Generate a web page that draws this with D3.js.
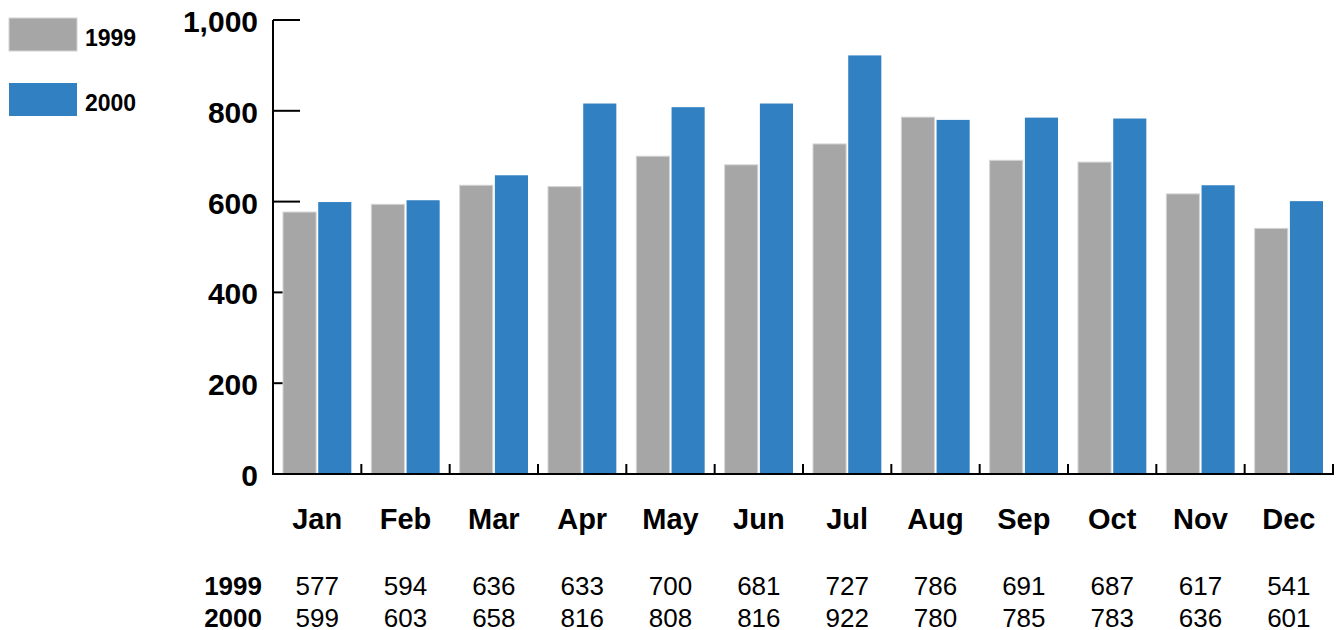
<!DOCTYPE html>
<html>
<head>
<meta charset="utf-8">
<script src="https://cdn.jsdelivr.net/npm/d3@7"></script>
<style>
  body { margin: 0; background: #fff; }
  svg { font-family: "Liberation Sans", Arial, sans-serif; }
</style>
</head>
<body>
<div id="chart"></div>
<script>
var months = ["Jan", "Feb", "Mar", "Apr", "May", "Jun", "Jul", "Aug", "Sep", "Oct", "Nov", "Dec"];
var seriesNames = ["1999", "2000"];
var values1999 = [577, 594, 636, 633, 700, 681, 727, 786, 691, 687, 617, 541];
var values2000 = [599, 603, 658, 816, 808, 816, 922, 780, 785, 783, 636, 601];
var yTicks = [0, 200, 400, 600, 800, 1000];
var colors = ["#a6a6a6", "#3080c2"];

var series = [values1999, values2000];

var svg = d3.select("#chart")
    .append("svg")
    .attr("width", 1340)
    .attr("height", 630);

var plotLeft = 273, plotRight = 1333, plotTop = 20, plotBottom = 474;

var x = d3.scaleBand().domain(months).range([plotLeft, plotRight]).paddingInner(0).paddingOuter(0);
var inner = d3.scaleBand().domain(seriesNames).range([10, x.bandwidth() - 10]).paddingInner(0.06);
var y = d3.scaleLinear().domain([0, 1000]).range([plotBottom, plotTop]);

// y axis ticks pointing into the plot, drawn under the bars
svg.append("g")
    .selectAll("line")
    .data(yTicks)
    .enter()
    .append("line")
    .attr("x1", plotLeft)
    .attr("x2", plotLeft + 27)
    .attr("y1", function(d) { return y(d); })
    .attr("y2", function(d) { return y(d); })
    .attr("stroke", "#000")
    .attr("stroke-width", 2);

// bars
series.forEach(function(vals, s) {
    svg.append("g")
        .selectAll("rect")
        .data(vals)
        .enter()
        .append("rect")
        .attr("x", function(d, i) { return x(months[i]) + inner(seriesNames[s]); })
        .attr("y", function(d) { return y(d); })
        .attr("width", inner.bandwidth())
        .attr("height", function(d) { return plotBottom - y(d); })
        .attr("fill", colors[s])
        .attr("stroke", s == 0 ? "#d4d4d4" : "none")
        .attr("stroke-width", 1);
});

// axis lines
svg.append("line")
    .attr("x1", plotLeft).attr("x2", plotLeft)
    .attr("y1", plotTop).attr("y2", plotBottom + 1)
    .attr("stroke", "#000").attr("stroke-width", 2);
svg.append("line")
    .attr("x1", plotLeft - 1).attr("x2", plotRight + 1)
    .attr("y1", plotBottom).attr("y2", plotBottom)
    .attr("stroke", "#000").attr("stroke-width", 2);

// category boundary ticks
svg.append("g")
    .selectAll("line")
    .data(months)
    .enter()
    .append("line")
    .attr("x1", function(d) { return x(d) + x.bandwidth(); })
    .attr("x2", function(d) { return x(d) + x.bandwidth(); })
    .attr("y1", plotBottom)
    .attr("y2", plotBottom - 10)
    .attr("stroke", "#000")
    .attr("stroke-width", 2);

// y tick labels
svg.append("g")
    .selectAll("text")
    .data(yTicks)
    .enter()
    .append("text")
    .attr("x", 258)
    .attr("y", function(d) { return y(d) + 12; })
    .attr("text-anchor", "end")
    .attr("font-size", 30)
    .attr("font-weight", "bold")
    .text(function(d) { return d3.format(",")(d); });

// month labels
svg.append("g")
    .selectAll("text")
    .data(months)
    .enter()
    .append("text")
    .attr("x", function(d) { return x(d) + x.bandwidth() / 2; })
    .attr("y", 529)
    .attr("text-anchor", "middle")
    .attr("font-size", 29)
    .attr("font-weight", "bold")
    .text(function(d) { return d; });

// data table
var rowY = [595, 627];
series.forEach(function(vals, s) {
    svg.append("text")
        .attr("x", 262)
        .attr("y", rowY[s])
        .attr("text-anchor", "end")
        .attr("font-size", 26)
        .attr("font-weight", "bold")
        .text(seriesNames[s]);
    svg.append("g")
        .selectAll("text")
        .data(vals)
        .enter()
        .append("text")
        .attr("x", function(d, i) { return x(months[i]) + x.bandwidth() / 2; })
        .attr("y", rowY[s])
        .attr("text-anchor", "middle")
        .attr("font-size", 26)
        .text(function(d) { return d; });
});

// legend
var legendY = [18, 83];
seriesNames.forEach(function(name, s) {
    svg.append("rect")
        .attr("x", 9)
        .attr("y", legendY[s])
        .attr("width", 68)
        .attr("height", 33)
        .attr("fill", colors[s])
        .attr("stroke", s == 0 ? "#d4d4d4" : "none");
    svg.append("text")
        .attr("x", 85)
        .attr("y", legendY[s] + 28)
        .attr("font-size", 23)
        .attr("font-weight", "bold")
        .text(name);
});
</script>
</body>
</html>
